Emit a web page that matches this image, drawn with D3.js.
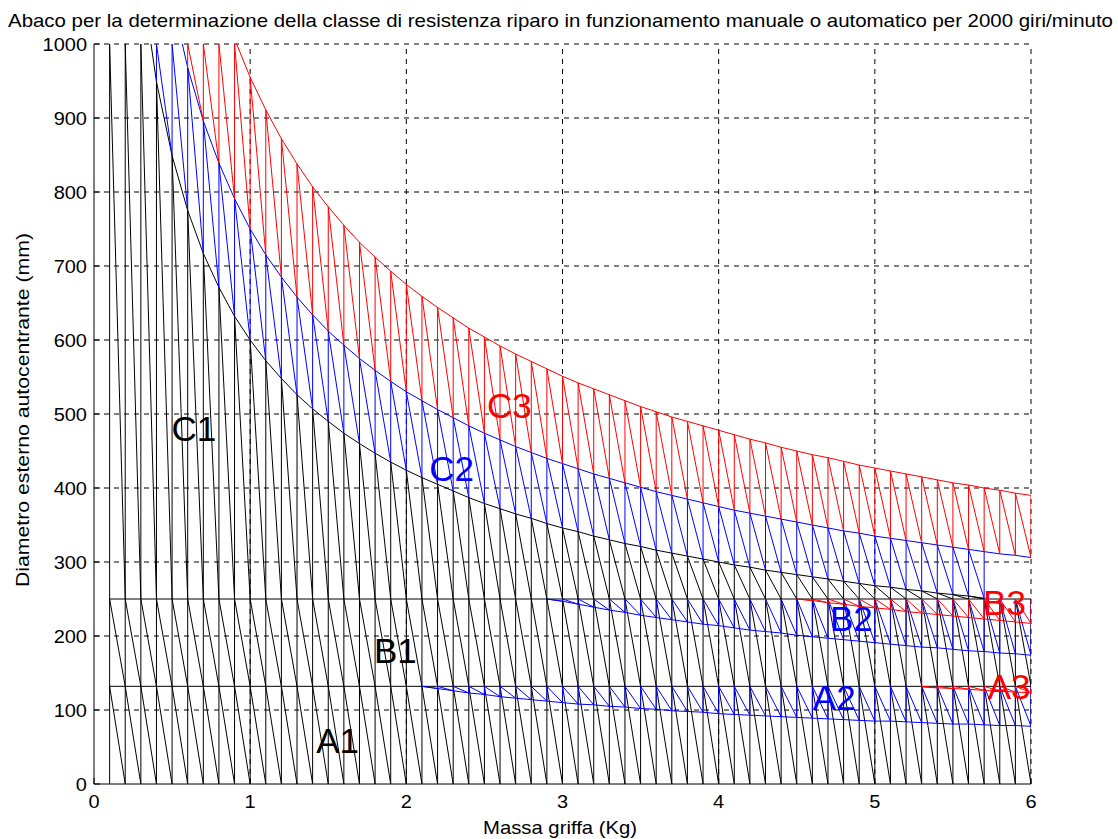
<!DOCTYPE html>
<html>
<head>
<meta charset="utf-8">
<script src="https://cdn.jsdelivr.net/npm/d3@7"></script>
<style>
  html, body { margin: 0; padding: 0; background: #fff; }
  text { font-family: "Liberation Sans", Arial, sans-serif; }
</style>
</head>
<body>
<script>
// ---------------- DATA ----------------
const titolo = "Abaco per la determinazione della classe di resistenza riparo in funzionamento manuale o automatico per 2000 giri/minuto";
const etichettaX = "Massa griffa (Kg)";
const etichettaY = "Diametro esterno autocentrante (mm)";
const tickX = [0, 1, 2, 3, 4, 5, 6];
const tickY = [0, 100, 200, 300, 400, 500, 600, 700, 800, 900, 1000];

// masses at which the hatching is drawn (Kg)
const massa = [0.1,0.2,0.3,0.4,0.5,0.6,0.7,0.8,0.9,1.0,1.1,1.2,1.3,1.4,1.5,1.6,1.7,1.8,1.9,2.0,
  2.1,2.2,2.3,2.4,2.5,2.6,2.7,2.8,2.9,3.0,3.1,3.2,3.3,3.4,3.5,3.6,3.7,3.8,3.9,4.0,
  4.1,4.2,4.3,4.4,4.5,4.6,4.7,4.8,4.9,5.0,5.1,5.2,5.3,5.4,5.5,5.6,5.7,5.8,5.9,6.0];

// horizontal class limits (mm)
const limiteAB = 132;
const limiteBC = 250;
const base = 0;

// boundary curves: diameter (mm) at each mass, starting at the given mass
const curvaNera = { da: 0.1, d: [1897,1342,1095,949,849,775,717,671,632,600,572,548,526,507,490,474,460,447,435,424,
  414,405,396,387,379,372,365,359,352,346,341,335,330,325,321,316,312,308,304,300,
  296,293,289,286,283,280,277,274,271,268,266,263,261,258,256,254,251] };
const curvaBlu = { da: 0.1, d: [2372,1677,1369,1186,1061,968,896,839,791,750,715,685,658,634,612,593,575,559,544,530,
  518,506,495,484,474,465,456,448,440,433,426,419,413,407,401,395,390,385,380,375,
  370,366,362,358,354,350,346,342,339,335,332,329,326,323,320,317,314,311,309,306] };
const curvaRossa = { da: 0.1, d: [3020,2135,1744,1510,1351,1233,1141,1068,1007,955,911,872,838,807,780,755,732,712,693,675,
  659,644,630,616,604,592,581,571,561,551,542,534,526,518,510,503,496,490,484,478,
  472,466,461,455,450,445,441,436,431,427,423,419,415,411,407,404,400,397,393,390] };
const curvaA2 = { da: 2.1, d: [132,129,126,123,121,118,116,114,112,110,108,107,105,104,102,101,99,98,97,95,
  94,93,92,91,90,89,88,87,86,85,85,84,83,82,81,81,80,79,79,78] };
const curvaA3 = { da: 5.3, d: [131,130,129,128,126.5,125.4,124.3,123.3] };
const curvaB2 = { da: 2.9, d: [250,247,243,239,235,232,228,225,222,219,216,214,211,208,206,204,201,199,197,195,
  193,191,189,187,185,184,182,180,179,177,176,174] };
const curvaB3 = { da: 4.5, d: [250,248,245,243,240,238,236,233,231,229,227,225,223,221,219,217] };

const etichette = ["A1", "B1", "C1", "A2", "B2", "C2", "A3", "B3", "C3"];
const etichetteMassa = [1.56, 1.93, 0.64, 4.74, 4.85, 2.29, 5.86, 5.83, 2.66];
const etichetteDiam = [42, 163, 463, 100, 207, 409, 115, 228, 495];

// ---------------- LAYOUT ----------------
const W = 1118, H = 839;
const L = 94, R = 1031, T = 44, B = 784;
const nero = "#000000", blu = "#0000ff", rosso = "#ff0000";
const coloreEtichetta = { A1: nero, B1: nero, C1: nero, A2: blu, B2: blu, C2: blu, A3: rosso, B3: rosso, C3: rosso };

const x = d3.scaleLinear().domain([0, 6]).range([L, R]);
const y = d3.scaleLinear().domain([0, 1000]).range([B, T]);

const svg = d3.select("body").append("svg")
  .attr("width", W).attr("height", H)
  .style("background", "#fff");

svg.append("defs").append("clipPath").attr("id", "clip")
  .append("rect").attr("x", L).attr("y", T).attr("width", R - L).attr("height", B - T);

// grid
const grid = svg.append("g").attr("stroke", "#000").attr("stroke-width", 1)
  .attr("stroke-dasharray", "5,5").attr("fill", "none");
tickX.filter(v => v > 0).forEach(v => {
  grid.append("line").attr("x1", x(v)).attr("x2", x(v)).attr("y1", B).attr("y2", T);
});
tickY.filter(v => v > 0).forEach(v => {
  grid.append("line").attr("x1", L).attr("x2", R).attr("y1", y(v)).attr("y2", y(v));
});

// helpers
const key = m => m.toFixed(1);
function mappa(c) {
  if (typeof c === "number") return m => c;
  const mm = new Map();
  const i0 = Math.round(c.da * 10);
  c.d.forEach((v, i) => mm.set(key((i0 + i) / 10), v));
  return m => mm.get(key(m));
}
function puntiCurva(c) {
  if (typeof c === "number") return massa.map(m => [m, c]);
  const f = mappa(c);
  return massa.filter(m => f(m) !== undefined).map(m => [m, f(m)]);
}
const linea = d3.line().x(p => x(p[0])).y(p => y(p[1]));
const plot = svg.append("g").attr("clip-path", "url(#clip)").attr("fill", "none")
  .attr("stroke-width", 1).attr("stroke-linejoin", "miter");

function regione(inf, sup, colore, bordo) {
  const fi = mappa(inf), fs = mappa(sup);
  const pts = [];
  massa.forEach(m => {
    let lo = fi(m), up = fs(m);
    if (lo === undefined || up === undefined) return;
    lo = Math.min(lo, 1000); up = Math.min(up, 1000);
    if (lo > up || lo >= 1000) return;
    pts.push([m, lo], [m, up]);
  });
  plot.append("path").attr("d", linea(pts)).attr("stroke", colore);
  if (bordo !== null) {
    plot.append("path").attr("d", linea(puntiCurva(bordo))).attr("stroke", colore);
  }
}

// black classes
regione(base, limiteAB, nero, limiteAB);
regione(limiteAB, limiteBC, nero, limiteBC);
regione(limiteBC, curvaNera, nero, curvaNera);
// blue classes
regione(curvaA2, limiteAB, blu, curvaA2);
regione(curvaB2, limiteBC, blu, curvaB2);
regione(curvaNera, curvaBlu, blu, curvaBlu);
// red classes
regione(curvaA3, limiteAB, rosso, curvaA3);
regione(curvaB3, limiteBC, rosso, curvaB3);
regione(curvaBlu, curvaRossa, rosso, curvaRossa);

// axes
const ax = svg.append("g").attr("stroke", "#000").attr("stroke-width", 1);
ax.append("line").attr("x1", L).attr("x2", L).attr("y1", T).attr("y2", B);
ax.append("line").attr("x1", L).attr("x2", R).attr("y1", B).attr("y2", B);
tickX.forEach(v => ax.append("line").attr("x1", x(v)).attr("x2", x(v)).attr("y1", B).attr("y2", B - 6));
tickY.forEach(v => ax.append("line").attr("x1", L).attr("x2", L + 6).attr("y1", y(v)).attr("y2", y(v)));

// horizontally widen text to match reference metrics
function allarga(sel, fattore) {
  sel.each(function () {
    const w = this.getComputedTextLength();
    d3.select(this).attr("textLength", w * fattore).attr("lengthAdjust", "spacingAndGlyphs");
  });
}

const fs = 18.5;
const tx = svg.append("g").selectAll("text").data(tickX).join("text")
  .attr("x", d => x(d)).attr("y", 808).attr("text-anchor", "middle")
  .attr("font-size", fs).text(d => d);
allarga(tx, 1.08);
const ty = svg.append("g").selectAll("text").data(tickY).join("text")
  .attr("x", 87).attr("y", d => y(d)).attr("dy", "0.36em").attr("text-anchor", "end")
  .attr("font-size", fs).text(d => d);
allarga(ty, 1.08);

svg.append("text").attr("x", 560.5).attr("y", 27).attr("text-anchor", "middle")
  .attr("font-size", 19).attr("textLength", 1105).attr("lengthAdjust", "spacingAndGlyphs").text(titolo);
svg.append("text").attr("x", 560).attr("y", 834).attr("text-anchor", "middle")
  .attr("font-size", fs).attr("textLength", 154).attr("lengthAdjust", "spacingAndGlyphs").text(etichettaX);
svg.append("text").attr("transform", "translate(29,410) rotate(-90)").attr("text-anchor", "middle")
  .attr("font-size", fs).attr("textLength", 354).attr("lengthAdjust", "spacingAndGlyphs").text(etichettaY);

// class labels
svg.append("g").selectAll("text").data(etichette).join("text")
  .attr("x", (d, i) => x(etichetteMassa[i])).attr("y", (d, i) => y(etichetteDiam[i]))
  .attr("text-anchor", "middle").attr("font-size", 35)
  .attr("fill", d => coloreEtichetta[d]).text(d => d);
</script>
</body>
</html>
